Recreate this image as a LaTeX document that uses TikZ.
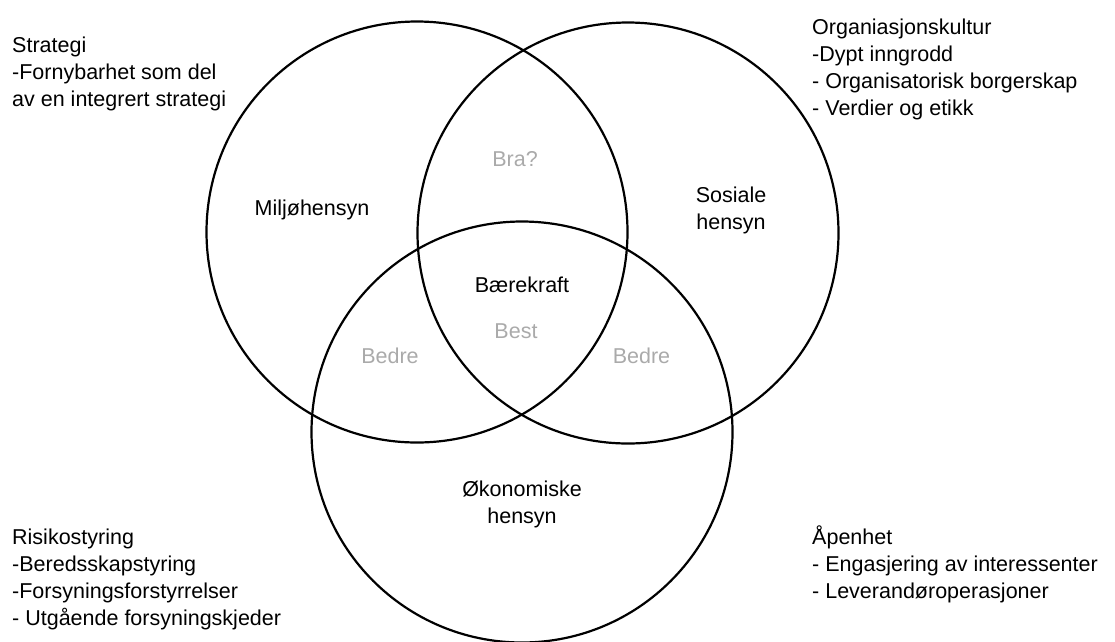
\documentclass[tikz,border=0pt]{standalone}
\usepackage{fontspec}
\setmainfont{Liberation Sans}
\definecolor{softgray}{RGB}{170,170,170}
\begin{document}
\begin{tikzpicture}[x=1pt,y=-1pt,
  ring/.style={draw=black,line width=2.2pt},
  lbl/.style={inner sep=0pt,font=\fontsize{21.5}{27}\selectfont,text=black},
  hint/.style={lbl,text=softgray},
  blocktext/.style={lbl,align=left,anchor=base west},
  pairtext/.style={lbl,align=center,anchor=base}]
\useasboundingbox (0,0) rectangle (1115,641);
\draw[ring] (417,232) circle (210.5);
\draw[ring] (628,233) circle (210.5);
\draw[ring] (522,432) circle (210.5);
% circle labels
\node[lbl,anchor=base] (milj) at (312,215) {Miljøhensyn};
\node[pairtext] (sos) at (731,229.5) {Sosiale\\hensyn};
\node[pairtext] (oko) at (522,523) {Økonomiske\\hensyn};
\node[lbl,anchor=base] (baer) at (522,292) {Bærekraft};
\node[hint,anchor=base] (bra) at (515,166) {Bra?};
\node[hint,anchor=base] (best) at (516,338) {Best};
\node[hint,anchor=base] (bedL) at (390,363) {Bedre};
\node[hint,anchor=base] (bedR) at (641.5,363) {Bedre};
% corner blocks (anchor at baseline of last line)
\node[blocktext] (strat) at (12,106) {Strategi\\-Fornybarhet som del\\av en integrert strategi};
\node[blocktext] (org) at (812,115) {Organiasjonskultur\\-Dypt inngrodd\\- Organisatorisk borgerskap\\- Verdier og etikk};
\node[blocktext] (risk) at (12,625) {Risikostyring\\-Beredsskapstyring\\-Forsyningsforstyrrelser\\- Utgående forsyningskjeder};
\node[blocktext] (open) at (812,598) {Åpenhet\\- Engasjering av interessenter\\- Leverandøroperasjoner};
\end{tikzpicture}
\end{document}
